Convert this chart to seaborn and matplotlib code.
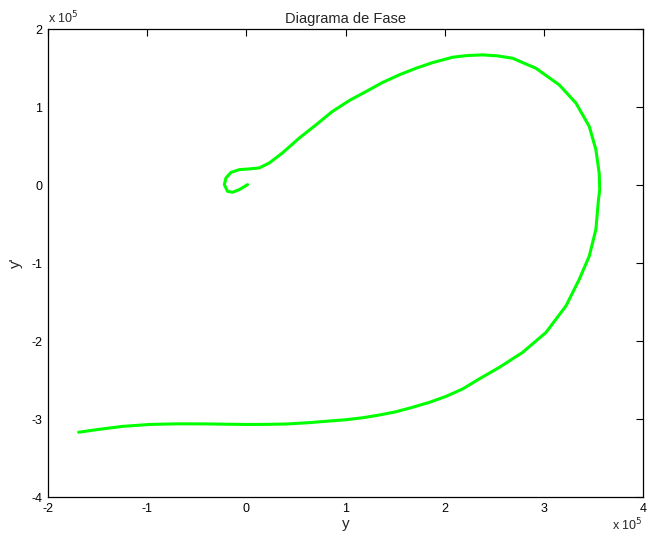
import numpy as np
import pandas as pd
import matplotlib
matplotlib.use("Agg")
import matplotlib.pyplot as plt
import seaborn as sns

# Phase trajectory (units of 1e5)
y_vals = [0.013, -0.071, -0.138, -0.189, -0.222, -0.205, -0.154, -0.071, 0.030, 0.131,
          0.232, 0.363, 0.534, 0.703, 0.867, 1.038, 1.207, 1.371, 1.542, 1.711,
          1.878, 2.080, 2.230, 2.382, 2.530, 2.685, 2.920, 3.155, 3.324, 3.458, 3.525, 3.558,
          3.564, 3.551, 3.525, 3.458, 3.357, 3.223, 3.021, 2.785, 2.550, 2.349,
          2.180, 2.013, 1.845, 1.676, 1.509, 1.341, 1.173, 1.006, 0.837, 0.620, 0.403,
          0.200, 0.0, -0.200, -0.403, -0.700, -0.978, -1.250, -1.500, -1.691]
dy_vals = [0.005, -0.059, -0.093, -0.081, 0.005, 0.091, 0.162, 0.197, 0.206, 0.219,
           0.283, 0.410, 0.602, 0.772, 0.942, 1.083, 1.198, 1.313, 1.412, 1.497,
           1.569, 1.638, 1.660, 1.668, 1.656, 1.625, 1.497, 1.284, 1.050, 0.751, 0.453, 0.155,
           -0.059, -0.187, -0.570, -0.912, -1.210, -1.551, -1.891, -2.147, -2.339, -2.486,
           -2.616, -2.710, -2.787, -2.850, -2.907, -2.949, -2.984, -3.009, -3.026, -3.048, -3.064,
           -3.069, -3.070, -3.067, -3.063, -3.062, -3.070, -3.095, -3.135, -3.170]
x_ticks = [-2, -1, 0, 1, 2, 3, 4]
y_ticks = [-4, -3, -2, -1, 0, 1, 2]

df = pd.DataFrame({"y": np.array(y_vals) * 1e5, "dy": np.array(dy_vals) * 1e5})

sns.set_theme(style="white")
plt.rcParams['font.family'] = ['Liberation Sans', 'DejaVu Sans']

fig = plt.figure(figsize=(6.48, 5.44), dpi=100)
ax = fig.add_axes([48/648, 1-497/544, (643-48)/648, (497-29)/544])

sns.lineplot(data=df, x="y", y="dy", sort=False, color="#00FF00", linewidth=2.2, ax=ax,
             estimator=None)
for ln in ax.get_lines():
    ln.set_solid_joinstyle("round")
    ln.set_solid_capstyle("round")

ax.set_xlim(-2e5, 4e5)
ax.set_ylim(-4e5, 2e5)
ax.set_xticks([t * 1e5 for t in x_ticks])
ax.set_xticklabels([str(t) for t in x_ticks])
ax.set_yticks([t * 1e5 for t in y_ticks])
ax.set_yticklabels([str(t) for t in y_ticks])
ax.tick_params(direction="in", length=5, width=0.8, top=True, right=True,
               labelsize=9, colors="black", pad=4)
for s in ax.spines.values():
    s.set_visible(True)
    s.set_color("black")
    s.set_linewidth(0.9)

ax.set_xlabel("y", fontsize=11, labelpad=2)
ax.set_ylabel("y'", fontsize=11, labelpad=6)
ax.set_title("Diagrama de Fase", fontsize=10.5, pad=4)

ax.text(0.0, 1.005, r"x 10$^5$", transform=ax.transAxes, fontsize=9, ha="left", va="bottom")
fig.text(643/648, 1-525/544, r"x 10$^5$", fontsize=9, ha="right", va="center")

fig.savefig("out.png", dpi=100, facecolor="white")
